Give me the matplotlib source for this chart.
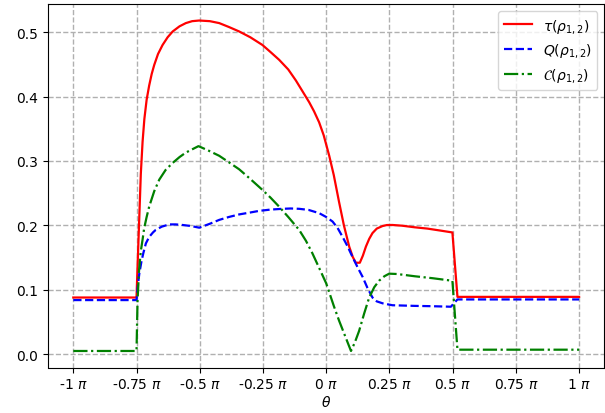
import matplotlib
matplotlib.use("Agg")
import matplotlib.pyplot as plt

# theta in units of pi
theta_tau = [-1.0, -0.75, -0.746, -0.739, -0.733, -0.726, -0.719, -0.71, -0.70, -0.69, -0.68,
             -0.665, -0.647, -0.627, -0.607, -0.58, -0.555, -0.53, -0.502, -0.46, -0.423,
             -0.385, -0.344, -0.30, -0.252, -0.22, -0.186, -0.15, -0.12, -0.095, -0.067,
             -0.048, -0.028, -0.01, 0.012, 0.03, 0.051, 0.07, 0.091, 0.105, 0.117, 0.133,
             0.145, 0.157, 0.17, 0.183, 0.20, 0.223, 0.24, 0.262, 0.3, 0.35, 0.4, 0.45,
             0.499, 0.519, 1.0]
tau = [0.088, 0.088, 0.135, 0.213, 0.28, 0.33, 0.365, 0.395, 0.417, 0.435, 0.449,
       0.466, 0.480, 0.492, 0.501, 0.509, 0.514, 0.517, 0.518, 0.517, 0.514,
       0.508, 0.501, 0.492, 0.480, 0.469, 0.457, 0.442, 0.425, 0.409, 0.391,
       0.377, 0.360, 0.340, 0.308, 0.278, 0.236, 0.200, 0.167, 0.151, 0.142, 0.142,
       0.153, 0.167, 0.179, 0.188, 0.195, 0.199, 0.2005, 0.2006, 0.1995, 0.197, 0.195, 0.192,
       0.189, 0.089, 0.089]

theta_q = [-1.0, -0.75, -0.745, -0.739, -0.73, -0.723, -0.713, -0.70, -0.685, -0.674, -0.65,
           -0.621, -0.595, -0.568, -0.535, -0.502, -0.46, -0.423, -0.385, -0.344, -0.30,
           -0.265, -0.22, -0.173, -0.14, -0.107, -0.07, -0.028, 0.0, 0.025, 0.045, 0.065,
           0.085, 0.104, 0.124, 0.144, 0.163, 0.183, 0.20, 0.223, 0.262, 0.35, 0.42,
           0.493, 0.519, 1.0]
q = [0.084, 0.084, 0.105, 0.125, 0.145, 0.157, 0.172, 0.182, 0.189, 0.193, 0.198,
     0.2015, 0.2015, 0.2006, 0.199, 0.1964, 0.2025, 0.2085, 0.213, 0.217, 0.220,
     0.2225, 0.2245, 0.2257, 0.2262, 0.2257, 0.224, 0.219, 0.213, 0.206, 0.196, 0.182,
     0.167, 0.151, 0.135, 0.120, 0.103, 0.088, 0.082, 0.079, 0.076, 0.075, 0.0745,
     0.0737, 0.085, 0.085]

theta_c = [-1.0, -0.75, -0.746, -0.74, -0.733, -0.726, -0.72, -0.71, -0.70, -0.68, -0.66,
           -0.635, -0.607, -0.58, -0.555, -0.53, -0.505, -0.465, -0.423, -0.385, -0.344,
           -0.30, -0.252, -0.22, -0.186, -0.15, -0.107, -0.08, -0.055, -0.028, 0.0, 0.012,
           0.03, 0.051, 0.075, 0.098, 0.113, 0.130, 0.15, 0.170, 0.19, 0.209, 0.23, 0.249,
           0.28, 0.35, 0.42, 0.499, 0.519, 1.0]
c = [0.005, 0.005, 0.083, 0.13, 0.16, 0.178, 0.195, 0.213, 0.229, 0.253, 0.271,
     0.286, 0.297, 0.306, 0.313, 0.318, 0.323, 0.316, 0.308, 0.298, 0.287,
     0.272, 0.255, 0.243, 0.229, 0.213, 0.193, 0.176, 0.157, 0.134, 0.11, 0.096,
     0.075, 0.052, 0.028, 0.005, 0.018, 0.036, 0.063, 0.088, 0.104, 0.114, 0.121, 0.125,
     0.1245, 0.121, 0.118, 0.114, 0.007, 0.007]

xticks = [-1, -0.75, -0.5, -0.25, 0, 0.25, 0.5, 0.75, 1]
xticklabels = [r'-1 $\pi$', r'-0.75 $\pi$', r'-0.5 $\pi$', r'-0.25 $\pi$', r'0 $\pi$',
               r'0.25 $\pi$', r'0.5 $\pi$', r'0.75 $\pi$', r'1 $\pi$']

fig = plt.figure(figsize=(6.05, 4.14), dpi=100)
ax = fig.add_axes([48/605, 1-368.5/414, 1-48/605-0.001, (368.5-5)/414])
ax.plot(theta_tau, tau, 'r-', lw=1.6, label=r'$\tau(\rho_{1,2})$')
ax.plot(theta_q, q, 'b--', lw=1.6, label=r'$Q(\rho_{1,2})$')
ax.plot(theta_c, c, 'g-.', lw=1.6, label=r'$\mathcal{C}(\rho_{1,2})$')
ax.set_xticks(xticks)
ax.set_xticklabels(xticklabels)
ax.set_xlabel(r'$\theta$', labelpad=2)
ax.grid(True, linestyle='--', color='#b0b0b0', lw=1.0)
ax.legend(loc='upper right')
fig.savefig('out.png', dpi=100)
